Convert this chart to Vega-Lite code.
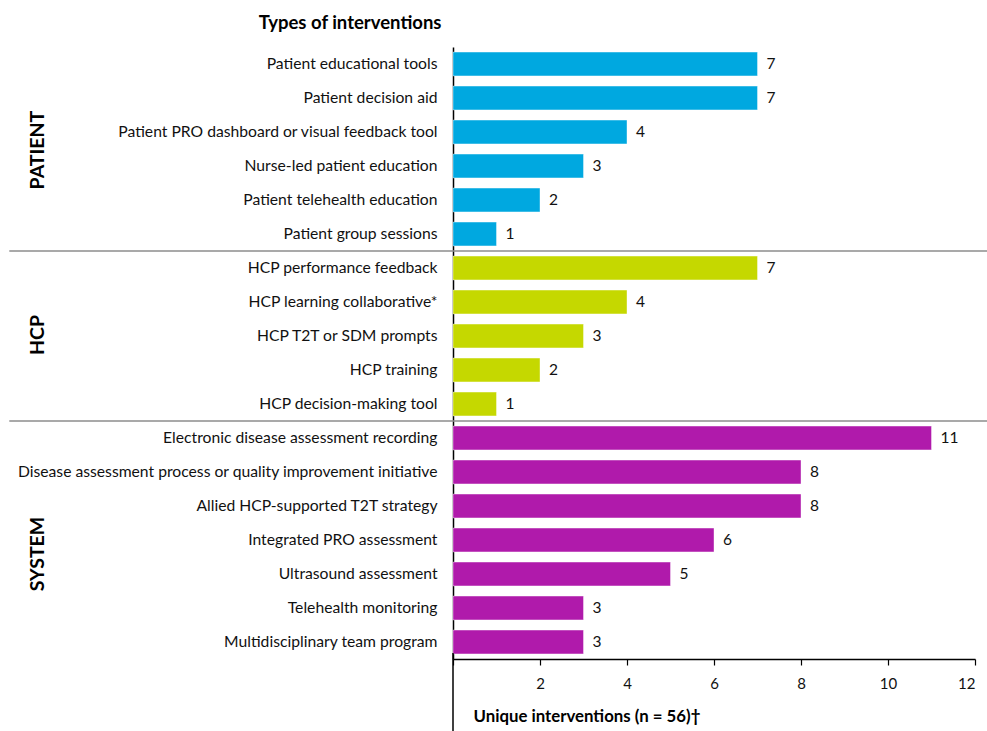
{
  "$schema": "https://vega.github.io/schema/vega-lite/v6.json",
  "autosize": {"type": "none"},
  "width": 522,
  "height": 612,
  "padding": {"left": 453, "top": 47, "right": 12, "bottom": 72},
  "background": "white",
  "config": {
    "view": {"stroke": null},
    "font": "Lato",
    "text": {"font": "Lato"}
  },
  "datasets": {
    "bars": [
      {"item": "Patient educational tools", "group": "PATIENT", "n": 7},
      {"item": "Patient decision aid", "group": "PATIENT", "n": 7},
      {"item": "Patient PRO dashboard or visual feedback tool", "group": "PATIENT", "n": 4},
      {"item": "Nurse-led patient education", "group": "PATIENT", "n": 3},
      {"item": "Patient telehealth education", "group": "PATIENT", "n": 2},
      {"item": "Patient group sessions", "group": "PATIENT", "n": 1},
      {"item": "HCP performance feedback", "group": "HCP", "n": 7},
      {"item": "HCP learning collaborative*", "group": "HCP", "n": 4},
      {"item": "HCP T2T or SDM prompts", "group": "HCP", "n": 3},
      {"item": "HCP training", "group": "HCP", "n": 2},
      {"item": "HCP decision-making tool", "group": "HCP", "n": 1},
      {"item": "Electronic disease assessment recording", "group": "SYSTEM", "n": 11},
      {"item": "Disease assessment process or quality improvement initiative", "group": "SYSTEM", "n": 8},
      {"item": "Allied HCP-supported T2T strategy", "group": "SYSTEM", "n": 8},
      {"item": "Integrated PRO assessment", "group": "SYSTEM", "n": 6},
      {"item": "Ultrasound assessment", "group": "SYSTEM", "n": 5},
      {"item": "Telehealth monitoring", "group": "SYSTEM", "n": 3},
      {"item": "Multidisciplinary team program", "group": "SYSTEM", "n": 3}
    ],
    "seps": [
      {"item": "HCP performance feedback"},
      {"item": "Electronic disease assessment recording"}
    ],
    "groups": [
      {"label": "PATIENT", "item": "Nurse-led patient education"},
      {"label": "HCP", "item": "HCP T2T or SDM prompts"},
      {"label": "SYSTEM", "item": "Ultrasound assessment"}
    ]
  },
  "layer": [
    {
      "data": {"name": "bars"},
      "mark": {"type": "bar", "stroke": "white", "strokeOpacity": 0.5, "strokeWidth": 0.8},
      "encoding": {
        "y": {
          "field": "item", "type": "nominal",
          "scale": {
            "domain": [
              "Patient educational tools", "Patient decision aid", "Patient PRO dashboard or visual feedback tool",
              "Nurse-led patient education", "Patient telehealth education", "Patient group sessions",
              "HCP performance feedback", "HCP learning collaborative*", "HCP T2T or SDM prompts",
              "HCP training", "HCP decision-making tool", "Electronic disease assessment recording",
              "Disease assessment process or quality improvement initiative", "Allied HCP-supported T2T strategy",
              "Integrated PRO assessment", "Ultrasound assessment", "Telehealth monitoring",
              "Multidisciplinary team program"
            ],
            "paddingInner": 0.3, "paddingOuter": 0.15
          },
          "axis": {
            "title": "Types of interventions",
            "titleAngle": 0, "titleAlign": "right", "titleBaseline": "middle",
            "titleX": -12, "titleY": -25,
            "titleFont": "Lato", "titleFontSize": 18.5, "titleFontWeight": "bold", "titleColor": "black",
            "domainColor": "black", "domainWidth": 1.5,
            "ticks": false, "labelPadding": 16, "labelOffset": 0,
            "labelFont": "Lato", "labelFontSize": 15.7, "labelColor": "#111", "labelLimit": 500
          }
        },
        "x": {
          "field": "n", "type": "quantitative",
          "scale": {"domain": [0, 12], "nice": false},
          "axis": {
            "values": [0, 2, 4, 6, 8, 10, 12],
            "labelExpr": "datum.value == 0 ? '' : datum.label",
            "grid": false,
            "domainColor": "black", "domainWidth": 1.5,
            "tickColor": "black", "tickWidth": 1.2, "tickSize": 6,
            "labelFont": "Lato", "labelFontSize": 15, "labelColor": "#111", "labelPadding": 11,
            "title": "Unique interventions (n = 56)\u2020",
            "titleFont": "Lato", "titleFontSize": 16.8, "titleFontWeight": "bold", "titleColor": "black",
            "titleAlign": "left", "titleBaseline": "middle", "titleX": 20, "titleY": 57
          }
        },
        "color": {
          "field": "group", "type": "nominal",
          "scale": {"domain": ["PATIENT", "HCP", "SYSTEM"], "range": ["#00A8E0", "#C5D800", "#B01AAB"]},
          "legend": null
        }
      }
    },
    {
      "data": {"name": "bars"},
      "mark": {"type": "text", "align": "left", "baseline": "middle", "dx": 9, "dy": 0, "font": "Lato", "fontSize": 15.5, "color": "#111"},
      "encoding": {
        "y": {"field": "item", "type": "nominal"},
        "x": {"field": "n", "type": "quantitative"},
        "text": {"field": "n", "type": "quantitative"}
      }
    },
    {
      "data": {"name": "seps"},
      "mark": {"type": "rule", "color": "#8c8c8c", "strokeWidth": 1.5, "clip": false},
      "encoding": {
        "y": {"field": "item", "type": "nominal", "bandPosition": -0.214},
        "x": {"datum": -10.2},
        "x2": {"datum": 12.3}
      }
    },
    {
      "data": {"name": "groups"},
      "transform": [{"filter": "datum.label == 'PATIENT'"}],
      "mark": {"type": "text", "angle": 270, "align": "center", "baseline": "middle", "font": "Lato", "fontSize": 19.5, "fontWeight": "bold", "color": "black", "clip": false},
      "encoding": {
        "y": {"field": "item", "type": "nominal", "bandPosition": -0.17},
        "x": {"datum": -9.55},
        "text": {"field": "label"}
      }
    },
    {
      "data": {"name": "groups"},
      "transform": [{"filter": "datum.label == 'HCP'"}],
      "mark": {"type": "text", "angle": 270, "align": "center", "baseline": "middle", "font": "Lato", "fontSize": 19.5, "fontWeight": "bold", "color": "black", "clip": false},
      "encoding": {
        "y": {"field": "item", "type": "nominal", "bandPosition": 0.46},
        "x": {"datum": -9.55},
        "text": {"field": "label"}
      }
    },
    {
      "data": {"name": "groups"},
      "transform": [{"filter": "datum.label == 'SYSTEM'"}],
      "mark": {"type": "text", "angle": 270, "align": "center", "baseline": "middle", "font": "Lato", "fontSize": 19.5, "fontWeight": "bold", "color": "black", "clip": false},
      "encoding": {
        "y": {"field": "item", "type": "nominal", "bandPosition": -0.34},
        "x": {"datum": -9.55},
        "text": {"field": "label"}
      }
    },
    {
      "data": {"values": [{}]},
      "mark": {"type": "rule", "color": "black", "strokeWidth": 1.5, "clip": false},
      "encoding": {
        "x": {"datum": 0},
        "y": {"value": 606},
        "y2": {"value": 684}
      }
    }
  ]
}
